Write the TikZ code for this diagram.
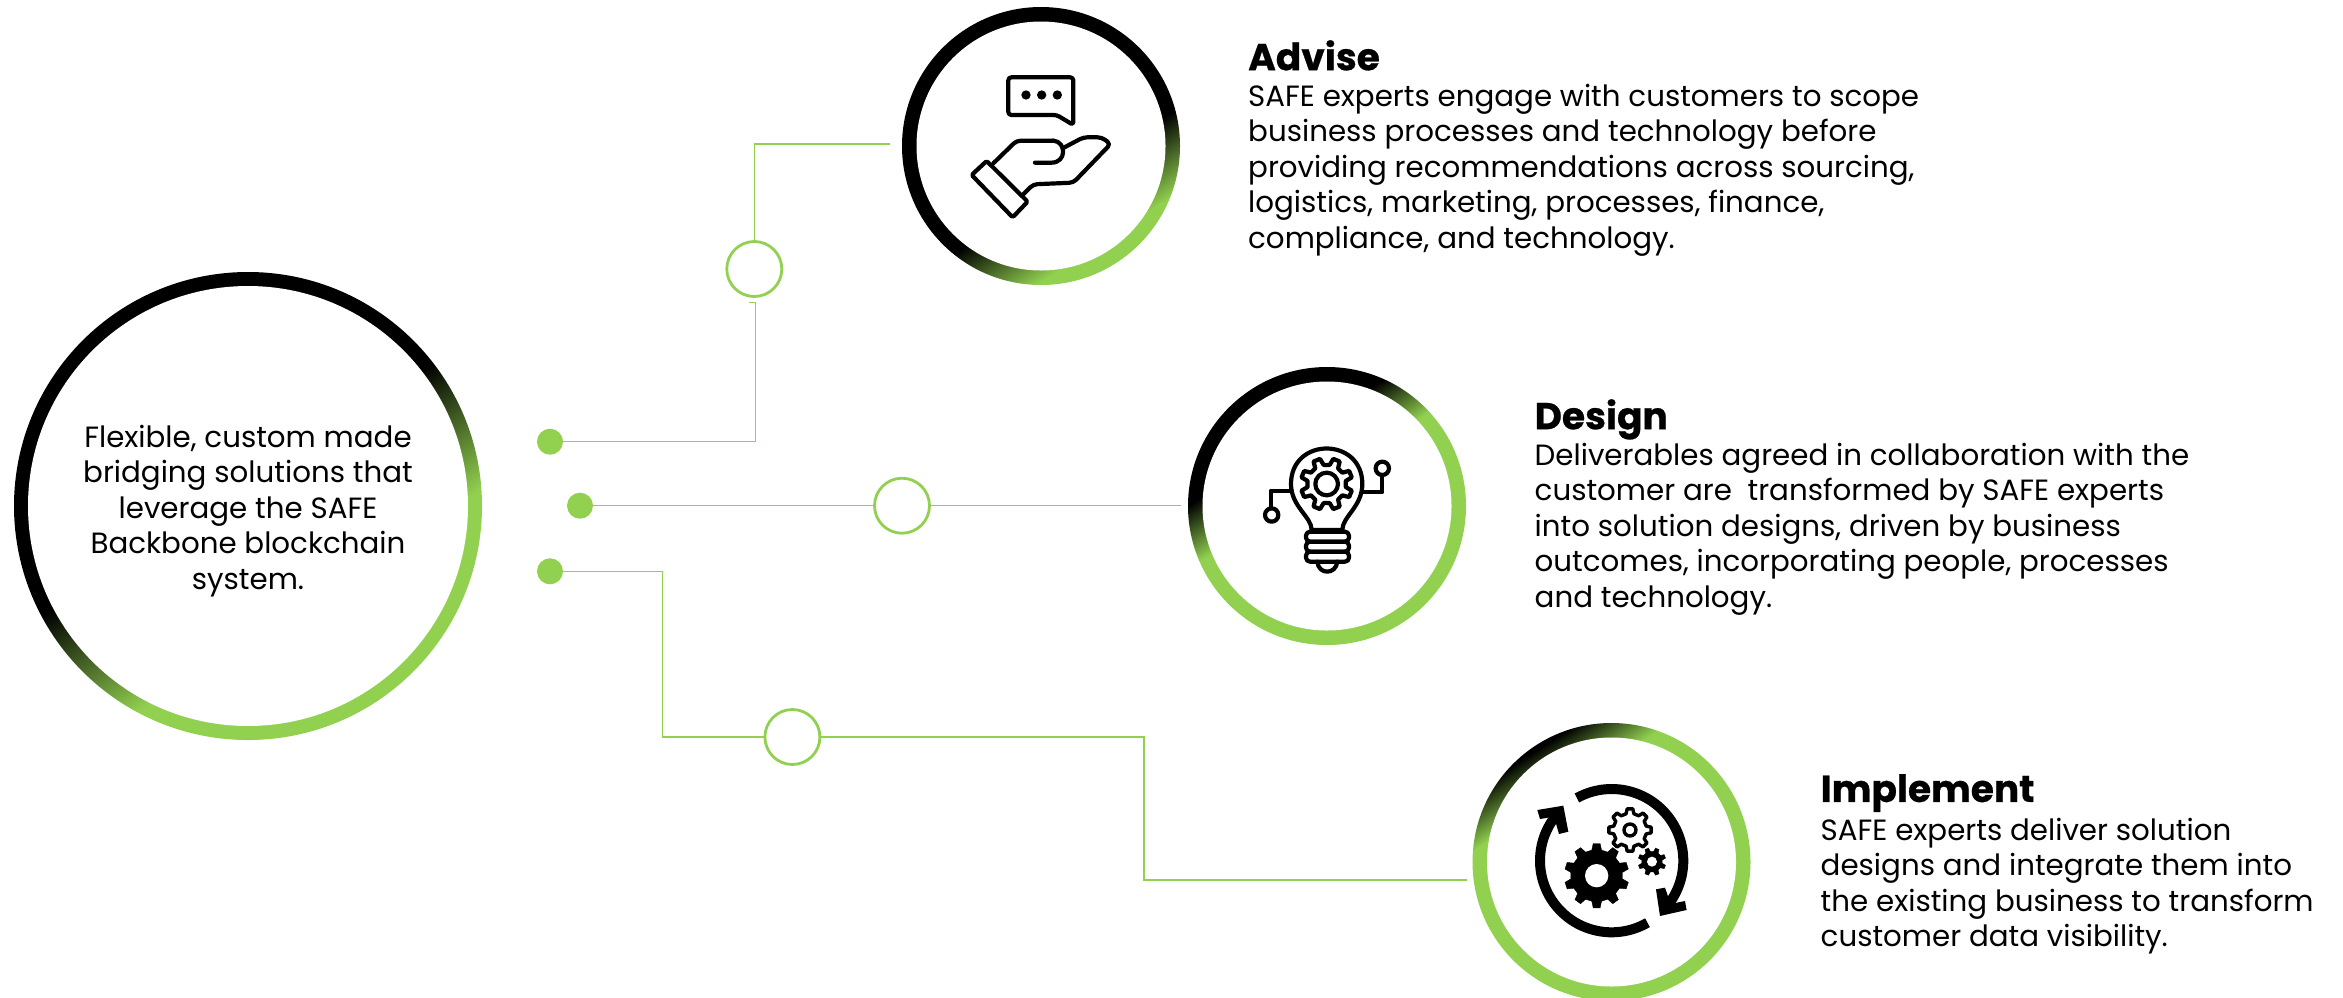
\documentclass[tikz,border=0pt]{standalone}
\usepackage{fontspec}
\setmainfont{Poppins}[BoldFeatures={FakeBold=0.6}]
\definecolor{safegreen}{RGB}{146,209,80}
\pgfdeclarehorizontalshading{gradzero}{100bp}{color(0bp)=(black);color(47.8bp)=(black);color(62.2bp)=(safegreen);color(100bp)=(safegreen)}
\pgfdeclarehorizontalshading{gradone}{100bp}{color(0bp)=(black);color(57.7bp)=(black);color(70.7bp)=(safegreen);color(100bp)=(safegreen)}
\pgfdeclarehorizontalshading{gradtwo}{100bp}{color(0bp)=(black);color(36.2bp)=(black);color(45.9bp)=(safegreen);color(100bp)=(safegreen)}
\pgfdeclarehorizontalshading{gradthree}{100bp}{color(0bp)=(black);color(25.5bp)=(black);color(34.7bp)=(safegreen);color(100bp)=(safegreen)}
\newcommand{\gearshape}[7]{%
  \draw[#1] ({#2+#5*cos(#7-0.3*360/#6)},{#3+#5*sin(#7-0.3*360/#6)})
  \foreach \gi in {0,...,\numexpr#6-1\relax}{
    -- ({#2+#5*cos(#7+\gi*360/#6-0.3*360/#6)},{#3+#5*sin(#7+\gi*360/#6-0.3*360/#6)})
    -- ({#2+#4*cos(#7+\gi*360/#6-0.17*360/#6)},{#3+#4*sin(#7+\gi*360/#6-0.17*360/#6)})
    -- ({#2+#4*cos(#7+\gi*360/#6+0.17*360/#6)},{#3+#4*sin(#7+\gi*360/#6+0.17*360/#6)})
    -- ({#2+#5*cos(#7+\gi*360/#6+0.3*360/#6)},{#3+#5*sin(#7+\gi*360/#6+0.3*360/#6)})
  } -- cycle;}
\tikzset{
  conn/.style={draw=safegreen,line width=1.5pt},
  dotnode/.style={circle,fill=safegreen,draw=none,minimum size=26pt,inner sep=0pt},
  ringnode/.style={circle,fill=white,draw=safegreen,line width=2.8pt,minimum size=55pt,inner sep=0pt},
  disc/.style={circle,fill=white,draw=none,inner sep=0pt},
  body/.style={anchor=north west,align=left,inner sep=0pt,font=\fontsize{29.3}{35.4}\selectfont,text=black},
  head/.style={anchor=north west,inner sep=0pt,font=\fontsize{37.5}{42}\selectfont\bfseries,text=black},
  icon/.style={draw=black,line width=4.2pt,line join=round,line cap=round}
}
\begin{document}
\begin{tikzpicture}[x=1pt,y=-1pt]
\useasboundingbox (0,0) rectangle (2343,997);
\fill[white] (0,0) rectangle (2343,997);
% rings
\begin{scope}
\clip (0,0) rectangle (2343,997);
\shade[shading=gradzero,shading angle=-57] (248,506) circle[radius=234];
\shade[shading=gradone,shading angle=-57] (1041,146) circle[radius=139];
\shade[shading=gradtwo,shading angle=-57] (1327,506) circle[radius=139];
\shade[shading=gradthree,shading angle=-57] (1611.5,862) circle[radius=139];
\node[disc,minimum size=440pt] (c0) at (248,506) {};
\node[align=center,inner sep=0pt,font=\fontsize{29.3}{35.4}\selectfont] (t0) at (248,511) {Flexible, custom made\\bridging solutions that\\leverage the SAFE\\Backbone blockchain\\system.};
\node[disc,minimum size=249pt] (c1) at (1041,146) {};
\node[disc,minimum size=249pt] (c2) at (1327,506) {};
\node[disc,minimum size=249pt] (c3) at (1611.5,862) {};
\end{scope}
% connectors
\node[dotnode] (d1) at (550,441.7) {};
\node[dotnode] (d2) at (580,505.7) {};
\node[dotnode] (d3) at (550,571.3) {};
\node[ringnode] (r1) at (754.3,269) {};
\node[ringnode] (r2) at (902,505.7) {};
\node[ringnode] (r3) at (792.4,737) {};
\coordinate (e1) at (890,144);
\coordinate (e2) at (1181,505.7);
\coordinate (e3) at (1467,880);
\coordinate (s1) at (748.5,302.7);
\draw[conn] (d1) -- (755.3,441.7) -- (755.3,302.7) -- (s1);
\draw[conn] (r1.north) |- (e1);
\draw[conn] (d2) -- (r2);
\draw[conn] (r2) -- (e2);
\draw[conn] (d3) -| (662.7,737) -- (r3);
\draw[conn] (r3) -| (1144,880) -- (e3);
% text
\node[head] (h1) at (1248,40) {Advise};
\node[body] (b1) at (1248,84) {SAFE experts engage with customers to scope\\business processes and technology before\\providing recommendations across sourcing,\\logistics, marketing, processes, finance,\\compliance, and technology.};
\node[head] (h2) at (1534.5,399) {Design};
\node[body] (b2) at (1534.5,443) {Deliverables agreed in collaboration with the\\customer are\ \ transformed by SAFE experts\\into solution designs, driven by business\\outcomes, incorporating people, processes\\and technology.};
\node[head] (h3) at (1820.5,774) {Implement};
\node[body] (b3) at (1820.5,818) {SAFE experts deliver solution\\designs and integrate them into\\the existing business to transform\\customer data visibility.};
% icon 1
\begin{scope}[shift={(880,0)},x=0.3333pt,y=-0.3333pt]
\draw[icon,rounded corners=3pt] (385,232) -- (580,232) -- (580,375) -- (530,345) -- (385,345) -- cycle;
\fill (438,285) circle[radius=14] (485,285) circle[radius=14] (532,285) circle[radius=14];
\draw[icon,rounded corners=1.5pt] (275,525) -- (320,483) -- (443,605) -- (398,652) -- cycle;
\draw[icon,rounded corners=4pt] (340,490) -- (410,422) -- (520,422);
\draw[icon] (520,422) .. controls (560,425) and (560,488) .. (515,488) -- (465,488);
\draw[icon,rounded corners=4pt] (548,445) -- (610,412) -- (665,412) -- (692,432) -- (580,548) -- (460,553) -- (430,583);
\end{scope}
% icon 2
\begin{scope}[shift={(1180,360)},x=0.3333pt,y=-0.3333pt]
\draw[icon] (395,510) .. controls (395,470) and (333,440) .. (333,372) .. controls (333,230) and (547,230) .. (547,372) .. controls (547,440) and (487,470) .. (487,510) -- cycle;
\draw[icon,rounded corners=4pt] (378,515) rectangle (507,545);
\draw[icon,rounded corners=4pt] (378,545) rectangle (507,575);
\draw[icon,rounded corners=4pt] (378,575) rectangle (507,605);
\draw[icon] (412,605) .. controls (415,645) and (468,645) .. (472,605);
\gearshape{icon}{440}{372}{78}{58}{8}{22.5}
\draw[icon] (440,372) circle[radius=34];
\draw[icon] (335,392) -- (272,392) -- (272,445);
\draw[icon] (275,465) circle[radius=20];
\draw[icon] (548,397) -- (607,397) -- (607,345);
\draw[icon] (607,325) circle[radius=20];
\end{scope}
% icon 3
\begin{scope}[shift={(1460,710)},x=0.3333pt,y=-0.3333pt]
\draw[draw=black,line width=10pt] plot[domain=119:-38,samples=50] ({455+215*cos(\x)},{452-215*sin(\x)});
\draw[draw=black,line width=10pt] plot[domain=300:142,samples=50] ({455+215*cos(\x)},{452-215*sin(\x)});
\fill (600,618) -- (680,600) -- (675,573) -- (632,582) -- (615,533) -- (588,538) -- cycle;
\fill (310,287) -- (232,300) -- (240,327) -- (282,320) -- (297,372) -- (325,365) -- cycle;
\gearshape{fill=black}{410}{497}{97}{78}{10}{18}
\fill[white] (410,497) circle[radius=35];
\gearshape{icon,line width=3.4pt}{510}{360}{64}{50}{8}{0}
\draw[icon,line width=3.4pt] (510,360) circle[radius=18];
\gearshape{fill=black}{576}{455}{42}{31}{8}{22.5}
\fill[white] (576,455) circle[radius=15];
\end{scope}
\end{tikzpicture}
\end{document}
